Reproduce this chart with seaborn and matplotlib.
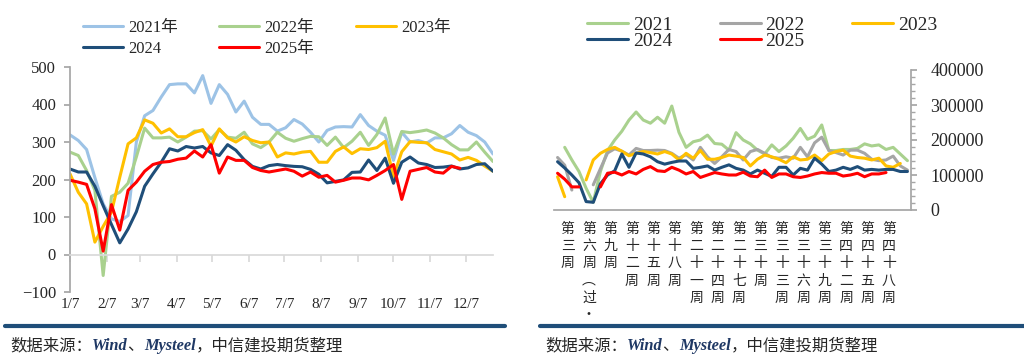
import matplotlib
matplotlib.use("Agg")
import matplotlib.pyplot as plt
import matplotlib.transforms as mtransforms
from matplotlib.lines import Line2D
from matplotlib.ticker import MultipleLocator, FuncFormatter
import numpy as np
import pandas as pd
import seaborn as sns

nan = np.nan

# ── left panel: weekly values, starting 7 Jan ────────────────────────────────
LEFT_NAMES = ["2021年", "2022年", "2023年", "2024", "2025年"]
LEFT_COLORS = ["#9DC3E6", "#A9D18E", "#FFC000", "#1F4E79", "#FF0000"]

LEFT_2021 = [319, 304, 280, 205, 135, 95, 88, 104, 300, 370,
             384, 420, 453, 455, 455, 431, 477, 403, 453, 427,
             380, 409, 366, 347, 347, 329, 338, 360, 348, 326,
             300, 331, 340, 341, 340, 373, 344, 329, 318, 251,
             326, 300, 304, 297, 311, 311, 322, 344, 326, 317,
             300, 268]
LEFT_2022 = [273, 264, 224, 171, -56, 155, 166, 190, 260, 337,
             311, 311, 313, 300, 313, 329, 330, 308, 333, 313,
             310, 326, 295, 285, 300, 326, 310, 302, 309, 315,
             314, 291, 313, 285, 302, 326, 291, 320, 364, 268,
             328, 325, 328, 332, 324, 311, 293, 279, 279, 300,
             273, 248]
LEFT_2023 = [215, 166, 135, 33, 75, 113, 206, 295, 311, 359,
             350, 324, 335, 314, 314, 325, 333, 289, 335, 311,
             300, 314, 304, 298, 300, 260, 271, 268, 273, 275,
             246, 246, 275, 287, 269, 282, 280, 285, 302, 208,
             274, 301, 299, 298, 280, 274, 268, 252, 259, 251,
             236, 222]
LEFT_2024 = [228, 220, 220, 182, 130, 80, 31, 68, 114, 182,
             215, 246, 282, 276, 288, 284, 288, 271, 264, 293,
             278, 253, 235, 228, 237, 240, 237, 235, 234, 227,
             214, 191, 195, 199, 219, 220, 252, 224, 257, 190,
             246, 260, 244, 240, 232, 233, 236, 228, 231, 240,
             242, 222]
LEFT_2025 = [198, 193, 187, 122, 9, 133, 65, 171, 193, 222,
             240, 246, 248, 254, 257, 276, 260, 293, 217, 260,
             251, 251, 232, 224, 220, 224, 228, 222, 209, 220,
             206, 211, 193, 198, 204, 204, 199, 211, 224, 240,
             147, 222, 227, 232, 220, 217, 235, 230, nan, nan,
             nan, nan]
LEFT_XTICK_LABELS = ["1/7", "2/7", "3/7", "4/7", "5/7", "6/7",
                     "7/7", "8/7", "9/7", "10/7", "11/7", "12/7"]

# ── right panel: weekly values (thousands), from week 3 ──────────────────────
RIGHT_NAMES = ["2021", "2022", "2023", "2024", "2025"]
RIGHT_COLORS = ["#A9D18E", "#A5A5A5", "#FFC000", "#1F4E79", "#FF0000"]

RIGHT_2021 = [nan, 179, 143, 110, 62, 22, 110, 170, 200, 225,
              257, 280, 257, 248, 265, 248, 297, 222, 179, 195,
              200, 214, 190, 188, 171, 221, 200, 189, 171, 160,
              186, 167, 183, 205, 233, 202, 211, 243, 170, 170,
              173, 173, 176, 189, 183, 186, 173, 179, 160, 141]
RIGHT_2022 = [150, 128, 57, nan, nan, 72, 118, 163, 175, 168,
              157, 176, 170, 170, 171, 170, 162, 148, 158, 143,
              179, 152, 133, 152, 173, 167, 143, 167, 173, 162,
              150, 148, 152, 148, 179, 152, 192, 208, 170, 164,
              157, 171, 171, 162, 145, 141, 143, 154, 126, 114]
RIGHT_2023 = [95, 38, nan, nan, 86, 143, 162, 173, 179, 168,
              155, 162, 167, 164, 160, 167, 160, 143, 162, 148,
              170, 145, 145, 150, 157, 154, 150, 126, 145, 157,
              152, 145, 135, 152, 143, 145, 157, 141, 160, 167,
              171, 154, 150, 148, 143, 148, 126, 122, 133, nan]
RIGHT_2024 = [138, 120, 100, 78, 24, 22, 75, 100, 112, 160,
              122, 163, 160, 152, 138, 131, 136, 140, 140, 119,
              122, 126, 114, 122, 129, 119, 114, 103, 114, 105,
              96, 122, 122, 100, 119, 114, 148, 131, 110, 114,
              122, 116, 124, 114, 116, 114, 116, 116, 110, 110]
RIGHT_2025 = [105, 88, 66, 66, nan, nan, 66, 105, 108, 100,
              110, 103, 116, 124, 112, 110, 122, 114, 103, 110,
              93, 100, 107, 103, 100, 100, 108, 97, 95, 114,
              93, 103, 103, 95, 93, 97, 103, 107, 105, 105,
              97, 100, 105, 95, 103, 103, 107, nan, nan, nan]
RIGHT_UNIT = 1000
RIGHT_XTICK_LABELS = ["第三周", "第六周（过·", "第九周", "第十二周", "第十五周",
                      "第十八周", "第二十一周", "第二十四周", "第二十七周",
                      "第三十周", "第三十三周", "第三十六周", "第三十九周",
                      "第四十二周", "第四十五周", "第四十八周"]

SOURCE_PARTS = [("数据来源：", "cjk"), ("Wind", "latin"), ("、", "cjk"),
                ("Mysteel", "latin"), ("，中信建投期货整理", "cjk")]

W, H = 1024, 356
SERIF = ["Liberation Serif", "Noto Sans CJK SC"]
CJK = ["Noto Sans CJK SC", "DejaVu Sans"]
AXIS_GREY = "#A6A6A6"
NAVY = "#1F4E79"


def long_frame(x, names, series, scale=1):
    parts = []
    for name, vals in zip(names, series):
        v = pd.Series(vals, dtype=float) * scale
        parts.append(pd.DataFrame({"x": x, "series": name, "value": v,
                                   "seg": v.isna().cumsum()}))
    return pd.concat(parts, ignore_index=True)


def vertical(label):
    return "\n".join(label.replace("（", "︵"))


sns.set_theme(style="white")
plt.rcParams["font.family"] = SERIF
plt.rcParams["axes.unicode_minus"] = True

fig = plt.figure(figsize=(W / 100, H / 100), dpi=100)

# ── left chart ───────────────────────────────────────────────────────────────
dates = pd.date_range("2021-01-07", periods=len(LEFT_2021), freq="7D")
month_ticks = pd.date_range("2021-01-07", periods=12, freq=pd.DateOffset(months=1))
df_left = long_frame(dates, LEFT_NAMES,
                     [LEFT_2021, LEFT_2022, LEFT_2023, LEFT_2024, LEFT_2025])

axL = fig.add_axes([70 / W, 1 - 292 / H, 423 / W, 225 / H])
sns.lineplot(data=df_left, x="x", y="value", hue="series", units="seg",
             estimator=None, palette=dict(zip(LEFT_NAMES, LEFT_COLORS)),
             linewidth=2.2, legend=False, ax=axL)
axL.set_xlim(dates[0], dates[-1])
axL.set_ylim(-100, 500)
axL.set_yticks(range(-100, 501, 100))
axL.set_xticks(month_ticks)
axL.set_xticklabels(LEFT_XTICK_LABELS)
axL.set_xlabel("")
axL.set_ylabel("")
for s in ["right", "bottom"]:
    axL.spines[s].set_visible(False)
axL.spines["top"].set_position(("data", 0))
axL.spines["top"].set_color("#D9D9D9")
axL.spines["left"].set_color(AXIS_GREY)
axL.tick_params(axis="x", bottom=False, top=True, labelbottom=True, labeltop=False,
                direction="in", length=5, color="#D9D9D9", pad=4, labelsize=11)
axL.tick_params(axis="y", left=True, direction="out", length=4, color=AXIS_GREY,
                pad=6, labelsize=12)

handles = [Line2D([], [], color=c, lw=2.2) for c in LEFT_COLORS]
order = [0, 3, 1, 4, 2]
axL.legend([handles[i] for i in order], [LEFT_NAMES[i] for i in order],
           ncol=3, loc="upper left", bbox_to_anchor=(83 / W, 1 - 20 / H),
           bbox_transform=fig.transFigure, frameon=False,
           prop=dict(family=SERIF, size=12), handlelength=2.4, handletextpad=0.3,
           columnspacing=2.5, labelspacing=0.3, borderpad=0, borderaxespad=0)

# ── right chart ──────────────────────────────────────────────────────────────
weeks = np.arange(len(RIGHT_2024))
df_right = long_frame(weeks, RIGHT_NAMES,
                      [RIGHT_2021, RIGHT_2022, RIGHT_2023, RIGHT_2024, RIGHT_2025],
                      RIGHT_UNIT)

axR = fig.add_axes([554 / W, 1 - 210 / H, 357 / W, 140 / H])
sns.lineplot(data=df_right, x="x", y="value", hue="series", units="seg",
             estimator=None, palette=dict(zip(RIGHT_NAMES, RIGHT_COLORS)),
             linewidth=2.2, legend=False, ax=axR)
axR.set_xlim(-0.5, len(weeks) - 0.5)
axR.set_ylim(0, 400000)
axR.set_xlabel("")
axR.set_ylabel("")
axR.yaxis.tick_right()
axR.set_yticks(range(0, 400001, 100000))
axR.yaxis.set_minor_locator(MultipleLocator(20000))
axR.yaxis.set_major_formatter(FuncFormatter(lambda v, p: f"{int(v)}"))
for s in ["left", "top"]:
    axR.spines[s].set_visible(False)
axR.spines["right"].set_color(AXIS_GREY)
axR.spines["bottom"].set_color(AXIS_GREY)
axR.tick_params(axis="y", which="both", left=False, right=True, direction="out",
                color=AXIS_GREY)
axR.tick_params(axis="y", which="major", length=4, pad=10, labelsize=13)
axR.tick_params(axis="y", which="minor", length=3)
axR.set_xticks(weeks[::3][:len(RIGHT_XTICK_LABELS)])
axR.set_xticklabels([vertical(t) for t in RIGHT_XTICK_LABELS],
                    family=CJK, fontsize=10, linespacing=1.3)
axR.tick_params(axis="x", bottom=True, length=0, pad=8.5)
shift = mtransforms.ScaledTranslation(10 / 100, 0, fig.dpi_scale_trans)
for lab in axR.get_xticklabels():
    lab.set_transform(lab.get_transform() + shift)

handles = [Line2D([], [], color=c, lw=2.2) for c in RIGHT_COLORS]
axR.legend([handles[i] for i in order], [RIGHT_NAMES[i] for i in order],
           ncol=3, loc="upper left", bbox_to_anchor=(587 / W, 1 - 16 / H),
           bbox_transform=fig.transFigure, frameon=False,
           prop=dict(family=SERIF, size=14), handlelength=2.1, handletextpad=0.25,
           columnspacing=2.45, labelspacing=-0.05, borderpad=0, borderaxespad=0)

# ── separators and source notes ──────────────────────────────────────────────
for x0, x1 in [(5, 505), (540, 1024)]:
    fig.add_artist(Line2D([x0 / W, x1 / W], [1 - 326 / H] * 2,
                          transform=fig.transFigure, color=NAVY, lw=3))


def source(x):
    prev = None
    for text, kind in SOURCE_PARTS:
        style = dict(fontsize=11.8)
        if kind == "cjk":
            style.update(family=CJK, color="#262626")
        else:
            style.update(family="Liberation Serif", style="italic",
                         weight="bold", color="#1F3864")
        if prev is None:
            prev = fig.text(x / W, 1 - 354 / H, text, ha="left", va="bottom", **style)
        else:
            prev = axL.annotate(text, xy=(1, 0), xycoords=prev, ha="left",
                                va="bottom", annotation_clip=False, **style)


source(10)
source(545)

fig.savefig("out.png", dpi=100)
